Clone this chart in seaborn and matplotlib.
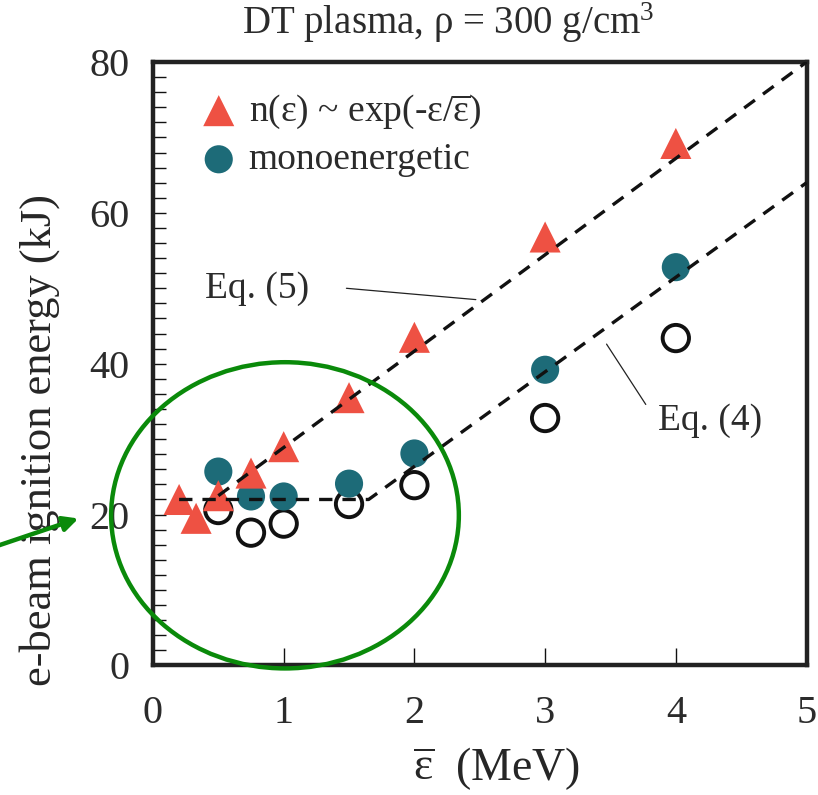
import matplotlib
matplotlib.use("Agg")
import numpy as np
import pandas as pd
import matplotlib.pyplot as plt
import seaborn as sns
from matplotlib.patches import Ellipse

# ----------------- Dados -----------------
x_exp = [0.2, 0.33, 0.5, 0.75, 1.0, 1.5, 2.0, 3.0, 4.0]
y_exp = [22.0, 19.5, 22.5, 25.5, 29.0, 35.5, 43.5, 56.8, 69.2]

x_mono = [0.5, 0.75, 1.0, 1.5, 2.0, 3.0, 4.0]
y_mono = [25.7, 22.4, 22.4, 24.1, 28.1, 39.2, 52.8]

x_open = [0.5, 0.75, 1.0, 1.5, 2.0, 3.0, 4.0]
y_open = [20.6, 17.6, 18.8, 21.4, 23.9, 32.8, 43.4]

eq5_x = [0.5, 5.0]
eq5_y = [22.5, 80.0]
eq4_x = [0.2, 1.65, 5.0]
eq4_y = [22.0, 22.0, 64.0]

x_ticks = [0, 1, 2, 3, 4, 5]
y_ticks = [0, 20, 40, 60, 80]

RED = "#EE5143"
TEAL = "#1D6B78"
GREEN = "#0A8A0A"
TXT = "#2b2b2b"

# ----------------- Estilo -----------------
sns.set_style("ticks")
plt.rcParams['font.family'] = ['Liberation Serif', 'DejaVu Serif']
plt.rcParams['mathtext.fontset'] = 'custom'
plt.rcParams['mathtext.rm'] = 'Liberation Serif'
plt.rcParams['mathtext.it'] = 'Liberation Serif:italic'
plt.rcParams['mathtext.bf'] = 'Liberation Serif:bold'
plt.rcParams['text.color'] = TXT

fig = plt.figure(figsize=(8.18, 7.95), dpi=100)
ax = fig.add_axes([0.187, 0.163, 0.799, 0.759])

df_exp = pd.DataFrame({"x": x_exp, "y": y_exp})
df_mono = pd.DataFrame({"x": x_mono, "y": y_mono})
df_open = pd.DataFrame({"x": x_open, "y": y_open})

# linhas tracejadas (Eq. 4 e Eq. 5)
ax.plot(eq5_x, eq5_y, color="#111111", lw=2.4, ls=(0, (4, 3.0)), zorder=3)
ax.plot(eq4_x, eq4_y, color="#111111", lw=2.4, ls=(0, (4, 3.0)), zorder=3)

sns.scatterplot(data=df_open, x="x", y="y", ax=ax, marker="o", s=360,
                facecolor="none", edgecolor="#111111", linewidth=2.8, zorder=2)
sns.scatterplot(data=df_mono, x="x", y="y", ax=ax, marker="o", s=410,
                color=TEAL, edgecolor="none", linewidth=0, zorder=2,
                label="monoenergetic")
sns.scatterplot(data=df_exp, x="x", y="y", ax=ax, marker="^", s=500,
                color=RED, edgecolor="none", linewidth=0, zorder=2,
                label=r"n(ε) ~ exp(-ε/$\overline{\mathrm{ε}}$)")

# legenda (triângulo primeiro)
h, l = ax.get_legend_handles_labels()
ax.legend([h[1], h[0]], [l[1], l[0]], loc="upper left",
          bbox_to_anchor=(0.049, 0.975), frameon=False, fontsize=27,
          handlelength=1.0, handletextpad=0.3, labelspacing=0.32,
          borderaxespad=0)

# anotações
ax.text(0.40, 50.0, "Eq. (5)", fontsize=27, va="center", ha="left")
ax.plot([1.48, 2.47], [50.0, 48.5], color="#222222", lw=0.9)
ax.text(3.86, 32.4, "Eq. (4)", fontsize=27, va="center", ha="left")
ax.plot([3.47, 3.77], [42.6, 34.6], color="#222222", lw=0.9)

# elipse verde e seta
ell = Ellipse((1.01, 19.9), width=2.66, height=40.6, fill=False,
              edgecolor=GREEN, lw=3.2, clip_on=False, zorder=5)
ax.add_patch(ell)
ax.annotate("", xy=(-0.55, 19.6), xytext=(-1.25, 15.5),
            arrowprops=dict(arrowstyle="-|>", color=GREEN, lw=3.2,
                            mutation_scale=22),
            annotation_clip=False)

# eixos
ax.set_xlim(0, 5)
ax.set_ylim(0, 80)
ax.set_xticks(x_ticks)
ax.set_yticks(y_ticks)
ax.set_yticks(np.arange(0, 81, 2), minor=True)
ax.tick_params(axis="both", which="both", direction="in", labelsize=29,
               width=1.0, color="#111111", labelcolor=TXT)
ax.tick_params(axis="y", which="both", length=9, pad=17)
ax.tick_params(axis="x", which="major", length=12, pad=21)
for s in ax.spines.values():
    s.set_linewidth(3.2)
    s.set_color("#222222")

ax.set_xlabel(r"$\overline{\mathrm{ε}}$  (MeV)", fontsize=33, labelpad=10)
ax.xaxis.label.set_x(0.526)
ax.set_ylabel("e-beam ignition energy (kJ)", fontsize=32)
ax.yaxis.set_label_coords(-0.142, 0.373)
ax.set_title(r"DT plasma, ρ = 300 g/cm$^3$", fontsize=28, pad=20, x=0.452)

fig.savefig("out.png", dpi=100)
